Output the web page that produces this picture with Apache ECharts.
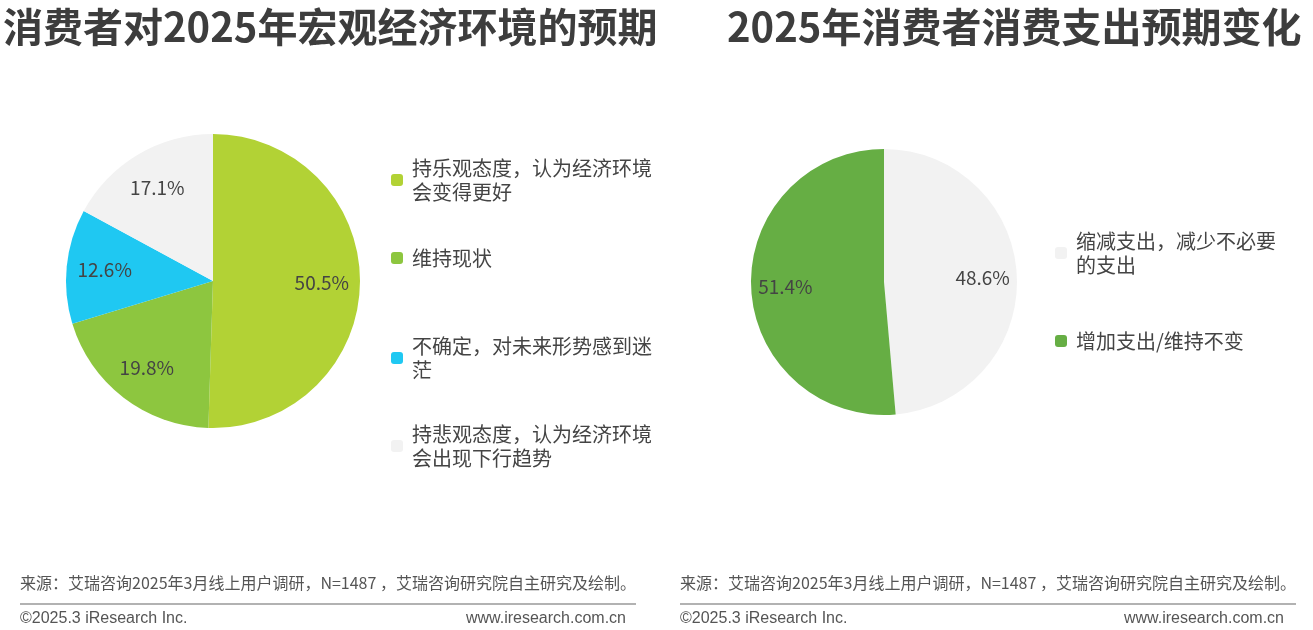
<!DOCTYPE html>
<html>
<head>
<meta charset="utf-8">
<script src="https://cdn.jsdelivr.net/npm/echarts@6/dist/echarts.min.js"></script>
<style>html,body{margin:0;padding:0;background:#fff}#c{width:1313px;height:630px}</style>
</head>
<body>
<div id="c"></div>
<script>
const leftNames = ['持乐观态度，认为经济环境\n会变得更好', '维持现状', '不确定，对未来形势感到迷\n茫', '持悲观态度，认为经济环境\n会出现下行趋势']
const leftValues = [50.5, 19.8, 12.6, 17.1]
const leftColors = ['#b2d235', '#8dc63f', '#1fc8f2', '#f2f2f2']
const rightNames = ['缩减支出，减少不必要\n的支出', '增加支出/维持不变']
const rightValues = [48.6, 51.4]
const rightColors = ['#f2f2f2', '#66ae44']
const sourceText = '来源：艾瑞咨询2025年3月线上用户调研，N=1487 ，艾瑞咨询研究院自主研究及绘制。'

const font = '"Noto Sans CJK SC", sans-serif'
let chart = echarts.init(document.getElementById('c'))

function pieSeries(names, values, colors, center, r) {
  let data = names.map((n, i) => ({ name: n, value: values[i], itemStyle: { color: colors[i] } }))
  return [
    { type: 'pie', center, radius: [0, r], startAngle: 90, clockwise: true, label: { show: false },
      labelLine: { show: false }, data, emphasis: { disabled: true } },
    { type: 'pie', center, radius: [0, r * 1.44], startAngle: 90, clockwise: true, silent: true,
      itemStyle: { color: 'transparent' }, labelLine: { show: false }, legendHoverLink: false,
      label: { show: true, position: 'inside', formatter: p => p.value.toFixed(1) + '%', fontSize: 19, color: '#444', fontFamily: font },
      data: names.map((n, i) => ({ name: n + ' ', value: values[i] })) }
  ]
}

function legends(names, left, tops) {
  return names.map((n, i) => ({
    data: [n], left, top: tops[i], orient: 'vertical', itemWidth: 12, itemHeight: 12, selectedMode: false,
    textStyle: { fontSize: 20, color: '#444', lineHeight: 24, fontFamily: font, padding: [0, 0, 0, 4] }
  }))
}

function footer(x0, x1, x2) {
  return [
    { type: 'text', left: x0, top: 575, style: { text: sourceText, fontSize: 16, fill: '#555', fontFamily: font } },
    { type: 'line', shape: { x1: x0, y1: 604, x2: x1, y2: 604 }, style: { stroke: '#999', lineWidth: 1.5 } },
    { type: 'text', left: x0, top: 611, style: { text: '©2025.3 iResearch Inc.', fontSize: 16, fill: '#555', fontFamily: 'Arial, sans-serif' } },
    { type: 'text', right: 1313 - x2, top: 611, style: { text: 'www.iresearch.com.cn', fontSize: 16, fill: '#555', fontFamily: 'Arial, sans-serif', textAlign: 'right' } }
  ]
}

chart.setOption({
  backgroundColor: '#fff',
  animation: false,
  title: [
    { text: '消费者对2025年宏观经济环境的预期', left: -2, top: 2, textStyle: { fontSize: 40, fontWeight: 'bold', color: '#3d3d3d', fontFamily: font } },
    { text: '2025年消费者消费支出预期变化', left: 722, top: 2, textStyle: { fontSize: 40, fontWeight: 'bold', color: '#3d3d3d', fontFamily: font } }
  ],
  legend: legends(leftNames, 386, [151, 241, 329, 417]).concat(legends(rightNames, 1050, [224, 324])),
  series: pieSeries(leftNames, leftValues, leftColors, [213, 281], 147)
    .concat(pieSeries(rightNames, rightValues, rightColors, [884, 282], 133)),
  graphic: footer(20, 636, 626).concat(footer(680, 1296, 1284))
})
</script>
</body>
</html>
